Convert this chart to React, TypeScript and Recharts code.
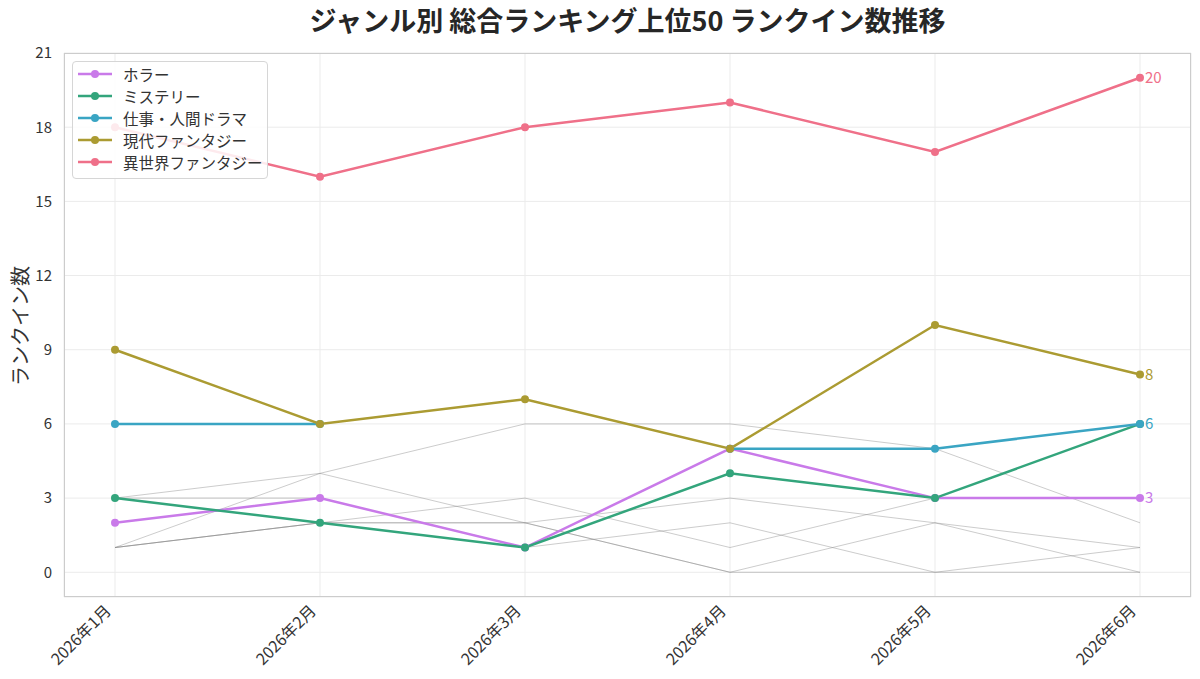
import React from 'react';
import { LineChart, Line, XAxis, YAxis, CartesianGrid, Legend } from 'recharts';

const months = ['2026年1月', '2026年2月', '2026年3月', '2026年4月', '2026年5月', '2026年6月'];

const horror = [2, 3, 1, 5, 3, 3];
const mystery = [3, 2, 1, 4, 3, 6];
const workDrama = [6, 6, null, 5, 5, 6];
const modernFantasy = [9, 6, 7, 5, 10, 8];
const isekaiFantasy = [18, 16, 18, 19, 17, 20];

const other1 = [1, 4, 6, 6, 5, 2];
const other2 = [3, 4, 2, 0, 2, 0];
const other3 = [3, 3, 1, 2, 0, 1];
const other4 = [1, 2, 3, 1, 3, 3];
const other5 = [1, 2, 2, 3, 2, 1];
const other6 = [1, 2, 2, 0, 0, 0];

const yTicks = [0, 3, 6, 9, 12, 15, 18, 21];

const mainSeries = [
  { key: 'horror', name: 'ホラー', color: '#c97ae9', values: horror, endLabel: true },
  { key: 'mystery', name: 'ミステリー', color: '#33a57c', values: mystery, endLabel: false },
  { key: 'work', name: '仕事・人間ドラマ', color: '#3aa5c3', values: workDrama, endLabel: true },
  { key: 'modern', name: '現代ファンタジー', color: '#ab9b32', values: modernFantasy, endLabel: true },
  { key: 'isekai', name: '異世界ファンタジー', color: '#ef7089', values: isekaiFantasy, endLabel: true },
];

const otherSeries = [other1, other2, other3, other4, other5, other6];

const rows = months.map((m, i) => {
  const r: any = { month: m };
  otherSeries.forEach((s, j) => {
    r['other' + j] = s[i];
  });
  mainSeries.forEach((s) => {
    r[s.key] = s.values[i];
  });
  return r;
});

const FONT = '"Noto Sans CJK JP", "Noto Sans", sans-serif';

const XTick = (props: any) => {
  const { x, y, payload } = props;
  const ax = x - 3;
  const ay = y + 15;
  return (
    <text
      x={ax}
      y={ay}
      textAnchor="end"
      fontSize={16}
      fill="#333"
      fontFamily={FONT}
      transform={`rotate(-45, ${ax}, ${ay})`}
    >
      {payload.value}
    </text>
  );
};

const LegendBox = () => (
  <div
    style={{
      width: 196,
      border: '1px solid #d6d6d6',
      borderRadius: 4,
      background: 'rgba(255,255,255,0.85)',
      padding: '1px 0 5px 5px',
      fontFamily: FONT,
      fontSize: 15.5,
      color: '#333',
      boxSizing: 'border-box',
    }}
  >
    {mainSeries.map((s) => (
      <div key={s.key} style={{ display: 'flex', alignItems: 'center', height: 22 }}>
        <svg width={34} height={10} style={{ marginRight: 11, flex: 'none' }}>
          <line x1={0} y1={5} x2={34} y2={5} stroke={s.color} strokeWidth={2.5} />
          <circle cx={17} cy={5} r={4} fill={s.color} />
        </svg>
        <span style={{ whiteSpace: 'nowrap', lineHeight: '20px' }}>{s.name}</span>
      </div>
    ))}
  </div>
);

const makeEndLabel = (color: string) => (props: any) => {
  const { x, y, index, value } = props;
  if (index !== months.length - 1 || value == null) return null;
  return (
    <text x={x + 5} y={y} dy="0.35em" fontSize={15} fill={color} fontFamily={FONT}>
      {value}
    </text>
  );
};

export default function App() {
  return (
    <div style={{ position: 'absolute', left: 0, top: 0, width: 1200, height: 679, background: '#fff' }}>
      <div
        style={{
          position: 'absolute',
          left: 0,
          top: 3,
          width: 1255,
          textAlign: 'center',
          fontFamily: FONT,
          fontWeight: 700,
          fontSize: 27,
          color: '#262626',
          lineHeight: '34px',
        }}
      >
        ジャンル別 総合ランキング上位50 ランクイン数推移
      </div>
      <LineChart
        width={1200}
        height={679}
        data={rows}
        margin={{ top: 53, right: 9, bottom: 0, left: 0 }}
        style={{ position: 'absolute', left: 0, top: 0 }}
      >
        <CartesianGrid stroke="#ebebeb" strokeWidth={1} />
        <XAxis
          dataKey="month"
          type="category"
          padding={{ left: 51, right: 51 }}
          height={82}
          tickLine={false}
          axisLine={false}
          tickSize={0}
          tickMargin={0}
          interval={0}
          tick={<XTick />}
        />
        <YAxis
          type="number"
          domain={[-1, 21]}
          ticks={yTicks}
          width={64}
          tickLine={false}
          axisLine={false}
          tickSize={0}
          tickMargin={12}
          allowDataOverflow
          tick={{ fontSize: 15, fill: '#333', fontFamily: FONT }}
          label={{
            content: () => (
              <text
                x={19}
                y={326}
                textAnchor="middle"
                dominantBaseline="central"
                fontSize={20}
                fill="#333"
                fontFamily={FONT}
                transform="rotate(-90, 19, 326)"
              >
                ランクイン数
              </text>
            ),
          }}
        />
        <Legend
          content={<LegendBox />}
          layout="horizontal"
          align="center"
          verticalAlign="middle"
          wrapperStyle={{ position: 'absolute', left: 72, top: 61, width: 196, height: 'auto' }}
        />
        {otherSeries.map((_, j) => (
          <Line
            key={'other' + j}
            dataKey={'other' + j}
            stroke="#808080"
            strokeOpacity={0.4}
            strokeWidth={1}
            dot={false}
            activeDot={false}
            legendType="none"
            isAnimationActive={false}
          />
        ))}
        {mainSeries.map((s) => (
          <Line
            key={s.key}
            dataKey={s.key}
            name={s.name}
            stroke={s.color}
            strokeWidth={2.5}
            dot={{ r: 4, fill: s.color, stroke: s.color, strokeWidth: 0 }}
            activeDot={false}
            connectNulls={false}
            isAnimationActive={false}
            label={s.endLabel ? makeEndLabel(s.color) : false}
          />
        ))}
      </LineChart>
      <div
        style={{
          position: 'absolute',
          left: 64,
          top: 53,
          width: 1127,
          height: 544,
          border: '1.25px solid #cccccc',
          boxSizing: 'border-box',
          pointerEvents: 'none',
        }}
      />
    </div>
  );
}
